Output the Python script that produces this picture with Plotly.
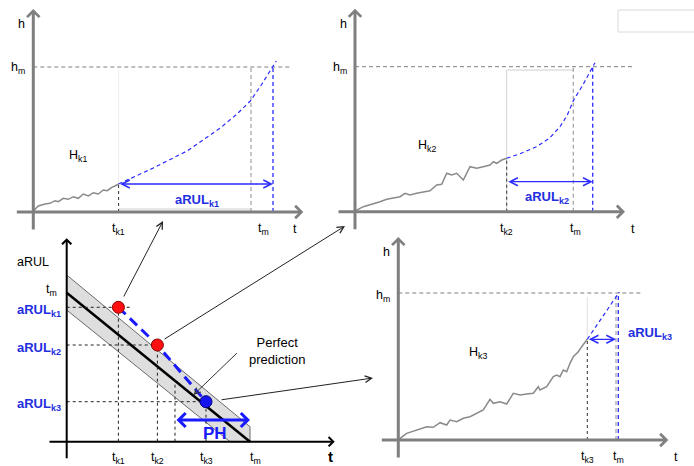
import plotly.graph_objects as go

W, H = 694, 466

# ---------------- data ----------------
# Panel 1 : degradation history up to t_k1 and predicted trajectory
p1_hist_t = [0, 1.7, 5, 11.7, 16.7, 21.7, 25, 30, 35, 40, 45, 50, 55, 60, 65, 70, 74, 78.4, 81.7, 85.3]
p1_hist_h = [0, 2.7, 6, 8, 8.7, 11.3, 10.3, 13.7, 12.7, 15.3, 13.7, 18, 16, 19.3, 18, 22, 21.3, 24.7, 26, 28]
p1_pred_t = [85.3, 120, 153.7, 187, 203.7, 217, 228, 239.7, 243]
p1_pred_h = [28, 44, 61, 84, 98, 111, 127, 145, 151]
p1_tk, p1_tm, p1_tp, p1_hm = 85.3, 217.7, 239.7, 145

# Panel 2
p2_hist_t = [0, 1.7, 8.3, 15, 25, 31.7, 38.3, 45, 50, 55, 61.7, 68.3, 75, 81.7, 86.7, 91.7, 96.7,
             101.7, 108.3, 115, 121.7, 128.3, 135, 138.3, 141.7, 146.7, 151.7]
p2_hist_h = [0, 1.7, 5, 6.7, 10, 12.4, 13.4, 15, 18.4, 16.7, 18.4, 20, 21, 26.7, 27.4, 38.4, 36.7,
             38.4, 31.7, 45, 43.4, 45, 46.7, 50, 48.4, 51.7, 53.4]
p2_pred_t = [151.7, 165, 181.7, 195, 205, 212, 218.3, 228, 237.7, 240]
p2_pred_h = [53.4, 58, 65, 74, 85, 96, 111, 127, 145, 149]
p2_tk, p2_tm, p2_tp, p2_hm = 151.7, 218.3, 237.7, 145

# Panel 3
p3_hist_t = [0, 1.7, 8.4, 18.4, 28.4, 35, 41.7, 48.4, 51.7, 58.4, 65, 71.7, 78.4, 85, 91.7, 95,
             101.7, 108.4, 115, 121.7, 128.4, 135, 140, 141.7, 148.4, 155, 158.4, 161.7, 165,
             168.4, 171.7, 175, 176.7, 180, 183.4, 186.7, 189]
p3_hist_h = [0, 1.7, 6.7, 10, 13.3, 12.7, 17.3, 15, 20, 18.3, 21.7, 23.3, 26.7, 30, 40.7, 36.7,
             38.3, 36, 46.7, 45, 46, 46.7, 53.3, 50, 53.3, 63.3, 65, 63.3, 70, 68.3, 76.7, 83.3,
             85, 88.3, 93.3, 98.3, 100.7]
p3_pred_t = [189, 221]
p3_pred_h = [100.7, 148]
p3_tk, p3_tm, p3_tp, p3_hm = 189, 217.7, 220, 147

# Panel 4 : aRUL versus time
p4_tm_t, p4_tm_h = 183.3, 149
p4_band_t = [0, 183.3, 183.3, 163.3, 0]
p4_band_h = [166.7, 15, 0, 0, 131.7]
p4_tk = [51.7, 90.7, 139.3]
p4_arul = [134.4, 96.7, 40]
p4_ph_start = 108.3
p4_labels_k = ["k1", "k2", "k3"]

# ---------------- layout helpers ----------------
# pixel position of each panel origin (layout only)
ORIG = {1: (33.3, 212), 2: (355, 211.7), 3: (398.3, 440), 4: (66.7, 441.7)}

FONT = "Liberation Sans, Arial, sans-serif"
GRAY = "#7f7f7f"
BLUE = "#2b2bff"
BLUE_TXT = "#1f2fe0"
FS = 12.5

fig = go.Figure()
annotations = []
layout_axes = {}


def ids(p):
    return ("x" if p == 1 else f"x{p}", "y" if p == 1 else f"y{p}")


for p, (ox, oy) in ORIG.items():
    xk = "xaxis" if p == 1 else f"xaxis{p}"
    yk = "yaxis" if p == 1 else f"yaxis{p}"
    xa = dict(range=[-ox, W - ox], domain=[0, 1], visible=False, fixedrange=True)
    ya = dict(range=[oy - H, oy], domain=[0, 1], visible=False, fixedrange=True)
    xid, yid = ids(p)
    xa["anchor"] = yid
    ya["anchor"] = xid
    if p > 1:
        xa["overlaying"] = "x"
        ya["overlaying"] = "y"
    layout_axes[xk] = xa
    layout_axes[yk] = ya


def line(p, xs, ys, color, width=1, dash="solid"):
    xid, yid = ids(p)
    fig.add_trace(go.Scatter(x=xs, y=ys, xaxis=xid, yaxis=yid, mode="lines",
                             line=dict(color=color, width=width, dash=dash),
                             hoverinfo="skip", showlegend=False))


def arrow(p, x0, y0, x1, y1, color, width=1, head=4, size=1.0, both=False):
    xid, yid = ids(p)
    annotations.append(dict(x=x1, y=y1, ax=x0, ay=y0, xref=xid, yref=yid, axref=xid, ayref=yid,
                            text="", showarrow=True, arrowhead=head, startarrowhead=head,
                            arrowwidth=width, arrowsize=size, startarrowsize=size,
                            arrowcolor=color, standoff=0, startstandoff=0,
                            arrowside="end+start" if both else "end"))


def text(p, x, y, s, size=FS, color="black", bold=False, xanchor="center", yanchor="middle"):
    xid, yid = ids(p)
    if bold:
        s = f"<b>{s}</b>"
    annotations.append(dict(x=x, y=y, xref=xid, yref=yid, text=s, showarrow=False,
                            xanchor=xanchor, yanchor=yanchor,
                            font=dict(family=FONT, size=size, color=color)))


def deg_panel(p, ht, hh, pt, ph, tk, tm, tp, hm, k, lab_pos, arul_h, arul_lab, hline_end,
              light):
    # light gray construction lines
    for xs, ys, c in light:
        line(p, xs, ys, c, 1)
    # h_m horizontal dashed
    line(p, [0, hline_end], [hm, hm], GRAY, 1, "4px,3px")
    # t_m gray dashed vertical
    line(p, [tm, tm], [0, hm], "#a0a0a0", 1.2, "4px,3px")
    # predicted failure time blue dashed vertical
    line(p, [tp, tp], [0, hm], BLUE, 1.3, "4px,3px")
    # black dashed at t_k
    line(p, [tk, tk], [0, hh[-1]], "#333333", 1, "3px,3px")
    # history
    line(p, ht, hh, "#8a8a8a", 1.5)
    # prediction
    line(p, pt, ph, BLUE, 1.2, "4px,3px")
    # axes
    arrow(p, -18, 0, 270, 0, GRAY, 3, 4, 0.8)
    arrow(p, 0, -19, 0, 203, GRAY, 3, 4, 0.8)
    # aRUL arrow
    arrow(p, tk, arul_h, tm if p == 3 else tp, arul_h, BLUE, 1.3, 5, 1.2, both=True)
    # labels
    text(p, -12, 188, "h")
    text(p, -15, 144, "h<sub>m</sub>")
    text(p, tk, -17, f"t<sub>{k}</sub>")
    text(p, lab_pos[0], -17, "t<sub>m</sub>")
    text(p, lab_pos[1], -17, "t")
    text(p, lab_pos[2], lab_pos[3], f"H<sub>{k}</sub>")
    text(p, arul_lab[0], arul_lab[1], f"aRUL<sub>{k}</sub>", 13, BLUE_TXT, True,
         xanchor=arul_lab[2])


deg_panel(1, p1_hist_t, p1_hist_h, p1_pred_t, p1_pred_h, p1_tk, p1_tm, p1_tp, p1_hm, "k1",
          (230, 262, 45, 56), 28, (164, 12, "center"), 259,
          [([p1_tk, p1_tm], [3, 3], "#d0d0d0"), ([p1_tk, p1_tk], [28, 143], "#ececec")])
deg_panel(2, p2_hist_t, p2_hist_h, p2_pred_t, p2_pred_h, p2_tk, p2_tm, p2_tp, p2_hm, "k2",
          (220, 278, 72, 66), 30, (192, 14, "center"), 277,
          [([p2_tk, p2_tk], [0, 141.7], "#d0d0d0"), ([p2_tk, p2_tm], [141.7, 141.7], "#d0d0d0")])
deg_panel(3, p3_hist_t, p3_hist_h, p3_pred_t, p3_pred_h, p3_tk, p3_tm, p3_tp, p3_hm, "k3",
          (220, 278, 80, 87), 100.7, (228, 107, "left"), 245,
          [([p3_tk, p3_tk], [100.7, 143], "#e0e0e0")])

# ---------------- panel 4 ----------------
xid, yid = ids(4)
fig.add_trace(go.Scatter(x=p4_band_t, y=p4_band_h, xaxis=xid, yaxis=yid, mode="lines",
                         fill="toself", fillcolor="#dedede",
                         line=dict(color="#6a6a6a", width=1), hoverinfo="skip", showlegend=False))
line(4, [0, p4_tm_t], [p4_tm_h, 0], "black", 2.5)
# dashed guides
line(4, [0, 63.3], [p4_arul[0], p4_arul[0]], "#222222", 1, "3px,3px")
line(4, [0, p4_tk[1]], [p4_arul[1], p4_arul[1]], "#222222", 1, "3px,3px")
line(4, [0, p4_tk[2]], [p4_arul[2], p4_arul[2]], "#222222", 1, "3px,3px")
for tk, ar in zip(p4_tk, p4_arul):
    line(4, [tk, tk], [0, ar], "#222222", 1, "3px,3px")
line(4, [p4_ph_start, p4_ph_start], [0, 61.7], "#222222", 1, "3px,3px")
# predicted aRUL blue dashed
line(4, p4_tk, p4_arul, "#1a1aff", 3, "10px,6px")
# dots
fig.add_trace(go.Scatter(x=p4_tk[:2], y=p4_arul[:2], xaxis=xid, yaxis=yid, mode="markers",
                         marker=dict(size=12, color="#ff1010", line=dict(color="#8b0000", width=1)),
                         hoverinfo="skip", showlegend=False, cliponaxis=False))
fig.add_trace(go.Scatter(x=p4_tk[2:], y=p4_arul[2:], xaxis=xid, yaxis=yid, mode="markers",
                         marker=dict(size=12, color="#1414f0", line=dict(color="#00007a", width=1)),
                         hoverinfo="skip", showlegend=False, cliponaxis=False))
# axes
arrow(4, -18.7, 0, 268, 0, "black", 2, 4, 0.9)
arrow(4, 0, -18, 0, 203.5, "black", 2, 4, 0.9)
# PH arrow
arrow(4, p4_ph_start, 21.7, p4_tm_t, 21.7, "#1a1aff", 3, 4, 0.9, both=True)
text(4, 148.3, 8, "PH", 17, "#1a1aff", True)
# labels
text(4, -33.3, 180, "aRUL")
text(4, -15, 152, "t<sub>m</sub>")
for ar, k in zip(p4_arul, p4_labels_k):
    text(4, -4, ar - 3, f"aRUL<sub>{k}</sub>", 13, BLUE_TXT, True, xanchor="right")
for tk, k in zip(p4_tk, p4_labels_k):
    text(4, tk, -16.7, f"t<sub>{k}</sub>")
text(4, p4_tm_t + 5, -16.7, "t<sub>m</sub>")
text(4, 263.3, -15, "t", 15, "black", True)
text(4, 210, 91, "Perfect<br>prediction", 13)
arrow(4, 171.7, 90, 126.7, 46.7, "#333333", 1, 5, 1.2)

# connector arrows to the degradation panels
arrow(4, 56.3, 143.7, 96.3, 220.7, "#222222", 1, 5, 1.3)
arrow(4, 96.3, 101.7, 278.3, 215.7, "#222222", 1, 5, 1.3)
arrow(4, 153.3, 41.7, 306.3, 63.7, "#222222", 1, 5, 1.3)

shapes = [dict(type="rect", xref="paper", yref="paper", x0=618 / W, x1=1.01,
               y0=1 - 32 / H, y1=1 - 10 / H, line=dict(color="#d9d9d9", width=1))]

fig.update_layout(width=W, height=H, autosize=False, margin=dict(l=0, r=0, t=0, b=0),
                  paper_bgcolor="white", plot_bgcolor="white", showlegend=False,
                  annotations=annotations, shapes=shapes, **layout_axes)

fig.write_html("out.html", config={"displayModeBar": False},
               post_script="document.body.style.margin='0px';document.body.style.overflow='hidden';")
